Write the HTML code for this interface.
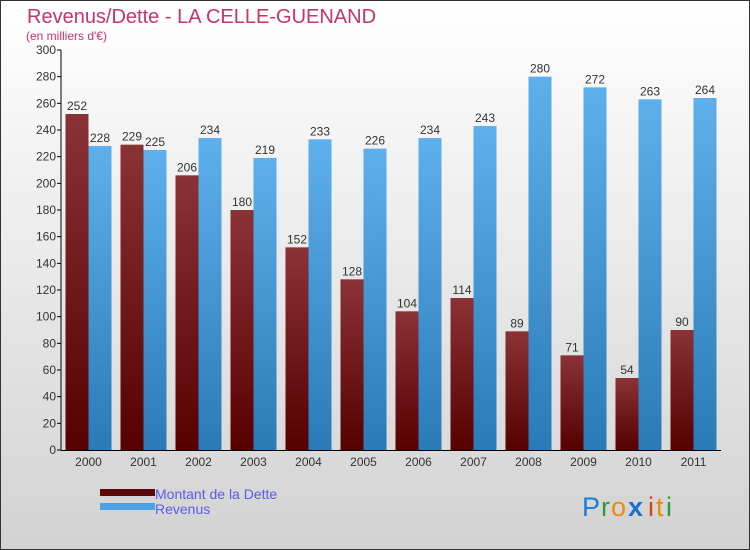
<!DOCTYPE html>
<html><head><meta charset="utf-8"><style>
body{margin:0}
svg{display:block;font-family:"Liberation Sans","DejaVu Sans",sans-serif}
</style></head><body>
<svg id="c" width="750" height="550" viewBox="0 0 750 550">
<defs>
<linearGradient id="bg" x1="0" y1="0" x2="0" y2="1"><stop offset="0" stop-color="#ffffff"/><stop offset="1" stop-color="#d2d2d2"/></linearGradient>
<linearGradient id="gd" x1="0" y1="0" x2="0" y2="1"><stop offset="0" stop-color="#8a3236"/><stop offset="1" stop-color="#560000"/></linearGradient>
<linearGradient id="gr" x1="0" y1="0" x2="0" y2="1"><stop offset="0" stop-color="#5eb0ec"/><stop offset="1" stop-color="#2a7ab8"/></linearGradient>
</defs>
<rect x="0.5" y="0.5" width="749" height="549" fill="url(#bg)" stroke="#333"/>
<text x="27" y="23" font-size="20" fill="#c8336a">Revenus/Dette - LA CELLE-GUENAND</text>
<text x="26" y="40" font-size="12" fill="#c8336a">(en milliers d'€)</text>
<g id="plot"></g>
<rect x="100" y="489" width="55" height="7" fill="#5a0a0a"/>
<rect x="100" y="503" width="55" height="7" fill="#4da3e6"/>
<text x="155" y="499" font-size="14" fill="#5b5be6">Montant de la Dette</text>
<text x="155" y="514" font-size="14" fill="#5b5be6">Revenus</text>
<g font-size="27">
<text x="582" y="516" fill="#1a7fd6">P</text><text x="601" y="516" fill="#2a9a3a">r</text><text x="611" y="516" fill="#f08a00">o</text><text x="628" y="516" fill="#1a6fd0" font-weight="bold">x</text><text x="648" y="516" fill="#e04010">i</text><text x="656" y="516" fill="#f08a00">t</text><text x="666" y="516" fill="#2a9a3a">i</text>
</g>
</svg>
<script>
const years=["2000","2001","2002","2003","2004","2005","2006","2007","2008","2009","2010","2011"];
const dette=[252,229,206,180,152,128,104,114,89,71,54,90];
const revenus=[228,225,234,219,233,226,234,243,280,272,263,264];
const yTicks=[0,20,40,60,80,100,120,140,160,180,200,220,240,260,280,300];
const NS="http://www.w3.org/2000/svg";
const g=document.getElementById('plot');
const x0=61,x1=721,y0=450,y1=50,yMax=300;
const y=v=>y0-(v/yMax)*(y0-y1);
const step=(x1-x0)/years.length;
const cx=i=>x0+step*(i+0.5);
const bw=23;
function el(t,a){const e=document.createElementNS(NS,t);for(const k in a)e.setAttribute(k,a[k]);g.appendChild(e);return e;}
yTicks.forEach(v=>{
 const t=el('line',{x1:x0-4,x2:x0,y1:y(v),y2:y(v),stroke:'#000'});
 
 
 const l=el('text',{x:x0-5,y:y(v)+4,'font-size':12,'text-anchor':'end',fill:'#333'});
 l.textContent=v;
 
 
});
years.forEach((yr,i)=>{
 const c=cx(i);
 const b1=el('rect',{x:c-bw,y:y(dette[i]),width:bw,height:y0-y(dette[i]),fill:'url(#gd)'});
 
 
 const b2=el('rect',{x:c,y:y(revenus[i]),width:bw,height:y0-y(revenus[i]),fill:'url(#gr)'});
 
 
 const v1=el('text',{x:c-bw/2,y:y(dette[i])-4,'font-size':12,'text-anchor':'middle',fill:'#333'});
 v1.textContent=dette[i];
 
 
 const v2=el('text',{x:c+bw/2,y:y(revenus[i])-4,'font-size':12,'text-anchor':'middle',fill:'#333'});
 v2.textContent=revenus[i];
 
 
 const xl=el('text',{x:c,y:466,'font-size':12,'text-anchor':'middle',fill:'#333'});
 xl.textContent=yr;
 
 
});
const ya=el('line',{x1:x0,x2:x0,y1:y1,y2:y0,stroke:'#000'});


const xa=el('line',{x1:x0,x2:x1,y1:y0+0.5,y2:y0+0.5,stroke:'#000'});


</script>
</body></html>
